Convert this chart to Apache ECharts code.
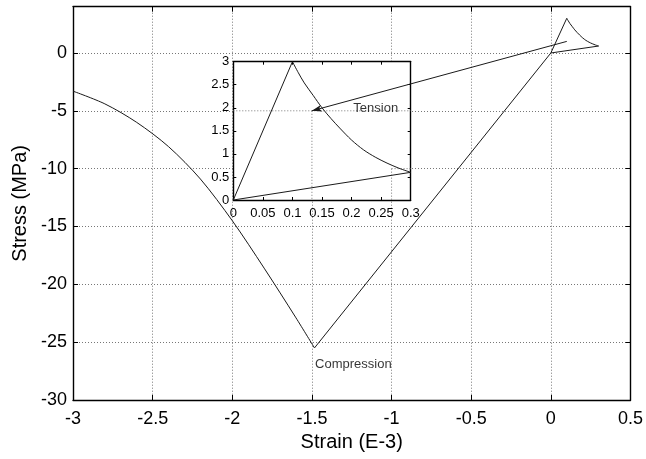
<!DOCTYPE html>
<html>
<head>
<meta charset="utf-8">
<script src="https://cdn.jsdelivr.net/npm/echarts@6/dist/echarts.min.js"></script>
<style>
  html, body { margin: 0; padding: 0; background: #fff; }
  #chart { width: 646px; height: 459px; }
</style>
</head>
<body>
<div id="chart"></div>
<script>
// Tension branch: linear rise, softening, unloading to the origin
const riseStrain = [0, 0.1];
const riseStress = [0, 3.0];
const tensionSoftStrain = [0.1, 0.11, 0.12, 0.135, 0.15, 0.165, 0.18, 0.2, 0.22, 0.24, 0.26, 0.28, 0.3];
const tensionSoftStress = [3.0, 2.76, 2.54, 2.27, 2.0, 1.77, 1.56, 1.30, 1.09, 0.93, 0.80, 0.69, 0.6];
const unloadStrain = [0.3, 0];
const unloadStress = [0.6, 0];

// Compression branch: linear loading to the peak, then softening
const compLoadStrain = [0, -1.484];
const compLoadStress = [0, -25.5];
const compSoftStrain = [-1.484, -1.6, -1.8, -2.0, -2.2, -2.4, -2.6, -2.8, -3.0];
const compSoftStress = [-25.5, -22.9, -18.6, -14.5, -10.9, -8.1, -6.0, -4.4, -3.3];

// Annotations (main axes units)
const arrowFrom = [0.1, 1.0];
const arrowTo = [-1.5, -5];
const tensionLabelAt = [-1.24, -4.78];
const compressionLabelAt = [-1.48, -26.9];

// Axis settings
const mainX = { min: -3, max: 0.5, interval: 0.5 };
const mainY = { min: -30, max: 4, interval: 5 };
const insetX = { min: 0, max: 0.3, interval: 0.05 };
const insetY = { min: 0, max: 3, interval: 0.5 };

const FONT = 'Liberation Sans, Arial, Helvetica, sans-serif';
const LINE = '#1a1a1a';

function pairs(xs, ys) { return xs.map((x, i) => [x, ys[i]]); }

const mainGrid = { left: 73, top: 6.7, width: 559, height: 393.3 };
const insetGrid = { left: 233.3, top: 61.7, width: 177.4, height: 138.3 };

const gridLine = { show: true, lineStyle: { color: '#777', width: 1, type: [1, 2] } };
const boxLine = { show: true, onZero: false, lineStyle: { color: '#000', width: 1.4 } };

function mainAxisX(pos, labels) {
  return Object.assign({
    type: 'value', gridIndex: 0, position: pos,
    axisLine: boxLine,
    axisTick: { show: true, inside: true, length: 5, lineStyle: { color: '#000' } },
    axisLabel: { show: labels, color: '#000', fontFamily: FONT, fontSize: 18, margin: 10 },
    splitLine: labels ? gridLine : { show: false }
  }, mainX);
}
function mainAxisY(pos, labels) {
  return Object.assign({
    type: 'value', gridIndex: 0, position: pos,
    axisLine: boxLine,
    axisTick: { show: true, inside: true, length: 5, lineStyle: { color: '#000' } },
    axisLabel: { show: labels, color: '#000', fontFamily: FONT, fontSize: 18, margin: 6, showMaxLabel: false },
    splitLine: labels ? gridLine : { show: false }
  }, mainY);
}
function insetAxisX(pos, labels) {
  return Object.assign({
    type: 'value', gridIndex: 1, position: pos, z: 1,
    axisLine: boxLine,
    axisTick: { show: true, inside: true, length: 3, lineStyle: { color: '#000' } },
    axisLabel: { show: labels, color: '#000', fontFamily: FONT, fontSize: 13, margin: 7 },
    splitLine: { show: false }
  }, insetX);
}
function insetAxisY(pos, labels) {
  return Object.assign({
    type: 'value', gridIndex: 1, position: pos, z: 1,
    axisLine: boxLine,
    axisTick: { show: true, inside: true, length: 3, lineStyle: { color: '#000' } },
    axisLabel: { show: labels, color: '#000', fontFamily: FONT, fontSize: 13, margin: 4 },
    splitLine: { show: false }
  }, insetY);
}

const xMain = mainAxisX('bottom', true);
xMain.name = 'Strain (E-3)';
xMain.nameLocation = 'middle';
xMain.nameGap = 32;
xMain.nameTextStyle = { color: '#000', fontFamily: FONT, fontSize: 20 };
const yMain = mainAxisY('left', true);
yMain.name = 'Stress (MPa)';
yMain.nameLocation = 'middle';
yMain.nameGap = 42;
yMain.nameTextStyle = { color: '#000', fontFamily: FONT, fontSize: 20 };

// Axis indices: 0/1 = main (bottom|left, top|right), 2/3 = inset
function curve(name, xi, yi, xs, ys, extra) {
  return Object.assign({
    name: name, type: 'line', xAxisIndex: xi, yAxisIndex: yi,
    data: pairs(xs, ys), showSymbol: false, symbol: 'none',
    lineStyle: { color: LINE, width: 1 }, animation: false, z: 3
  }, extra || {});
}

const series = [];
// Main axes
series.push(curve('rise', 0, 0, riseStrain, riseStress));
series.push(curve('tensionSoft', 0, 0, tensionSoftStrain, tensionSoftStress, { smooth: 0.3 }));
series.push(curve('unload', 0, 0, unloadStrain, unloadStress));
series.push(curve('compLoad', 0, 0, compLoadStrain, compLoadStress));
series.push(curve('compSoft', 0, 0, compSoftStrain, compSoftStress, { smooth: 0.3 }));
// Inset axes (tension loop only)
series.push(curve('insetRise', 2, 2, riseStrain, riseStress));
series.push(curve('insetSoft', 2, 2, tensionSoftStrain, tensionSoftStress, { smooth: 0.3 }));
series.push(curve('insetUnload', 2, 2, unloadStrain, unloadStress));
// Arrow pointing at the inset, plus text labels
series.push({
  name: 'arrow', type: 'line', xAxisIndex: 0, yAxisIndex: 0, data: [],
  animation: false, z: 4,
  markLine: {
    silent: true, animation: false,
    symbol: ['none', 'arrow'], symbolSize: [5, 10],
    lineStyle: { color: LINE, width: 1, type: 'solid' },
    label: { show: false },
    data: [[{ coord: arrowFrom }, { coord: arrowTo }]]
  }
});
series.push({
  name: 'labels', type: 'scatter', xAxisIndex: 0, yAxisIndex: 0, symbolSize: 0,
  animation: false, z: 4,
  data: [
    { value: tensionLabelAt, name: 'Tension' },
    { value: compressionLabelAt, name: 'Compression' }
  ],
  label: {
    show: true, position: 'inside', align: 'left', verticalAlign: 'middle',
    formatter: p => p.name, color: '#000', fontFamily: FONT, fontSize: 13
  }
});

const chart = echarts.init(document.getElementById('chart'), null, { renderer: 'canvas' });
chart.setOption({
  backgroundColor: '#fff',
  animation: false,
  grid: [
    Object.assign({ show: false }, mainGrid),
    Object.assign({ show: true, backgroundColor: '#fff', borderWidth: 0, z: 1 }, insetGrid)
  ],
  xAxis: [xMain, mainAxisX('top', false), insetAxisX('bottom', true), insetAxisX('top', false)],
  yAxis: [yMain, mainAxisY('right', false), insetAxisY('left', true), insetAxisY('right', false)],
  series: series
});

// Main grid-line pieces that stay visible across the inset panel
const P = pt => chart.convertToPixel({ gridIndex: 0 }, pt);
const L = insetGrid.left, R = insetGrid.left + insetGrid.width;
const B = insetGrid.top + insetGrid.height;
const yM5 = P([-2, -5])[1], yM10 = P([-2, -10])[1];
const xM15 = P([-1.5, 0])[0], xM1 = P([-1, 0])[0];
const seg = (x1, y1, x2, y2) => ({
  type: 'line', silent: true, z: 2,
  shape: { x1: x1, y1: y1, x2: x2, y2: y2 },
  style: { stroke: '#777', lineWidth: 1, lineDash: [1, 2] }
});
chart.setOption({
  graphic: [
    seg(L, yM5, R, yM5),
    seg(xM15, yM5, xM15, B),
    seg(xM1, yM10, xM1, B),
    seg(xM1, yM10, R, yM10)
  ]
});
</script>
</body>
</html>
